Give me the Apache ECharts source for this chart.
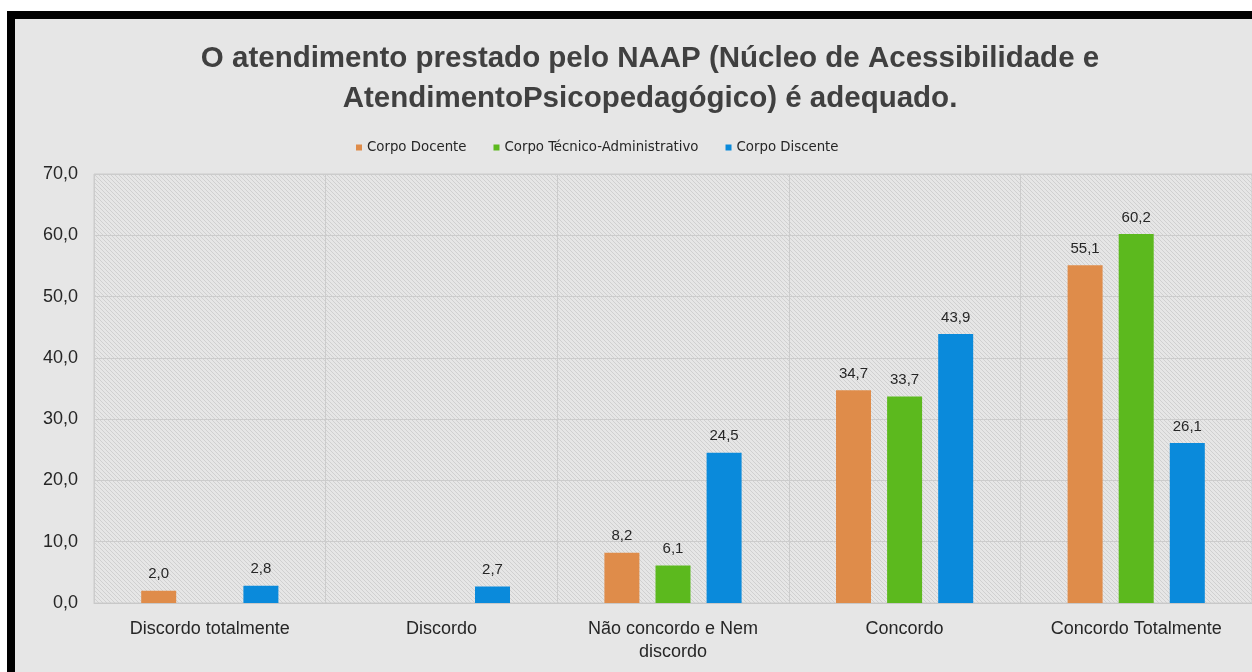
<!DOCTYPE html>
<html>
<head>
<meta charset="utf-8">
<script src="https://cdn.jsdelivr.net/npm/echarts@6/dist/echarts.min.js"></script>
<style>
  html, body { margin: 0; padding: 0; background: #fff; }
  #frame {
    position: absolute; left: 7px; top: 11px; right: 0; bottom: 0;
    border-left: 8px solid #000; border-top: 8px solid #000;
    background: #e6e6e6;
  }
  #chart { position: absolute; left: 0; top: 0; width: 1252px; height: 672px; }
</style>
</head>
<body>
<div id="frame"></div>
<div id="chart"></div>
<script>
const categories = ["Discordo totalmente", "Discordo", "Não concordo e Nem\ndiscordo", "Concordo", "Concordo Totalmente"];
const seriesNames = ["Corpo Docente", "Corpo Técnico-Administrativo", "Corpo Discente"];
const docente = [2.0, null, 8.2, 34.7, 55.1];
const tecnico = [null, null, 6.1, 33.7, 60.2];
const discente = [2.8, 2.7, 24.5, 43.9, 26.1];
const colors = ["#DF8C4A", "#5CB91E", "#0A8ADB"];

// hatched plot background
function hatch() {
  const c = document.createElement("canvas");
  c.width = 4; c.height = 4;
  const ctx = c.getContext("2d");
  ctx.fillStyle = "#e6e6e6";
  ctx.fillRect(0, 0, 4, 4);
  ctx.fillStyle = "#d0d0d0";
  for (let i = 0; i < 4; i++) ctx.fillRect(i, i, 1, 1);
  return c;
}

const fmt = v => v.toFixed(1).replace(".", ",");
const font = "'Liberation Sans', Arial, sans-serif";
const narrow = "'Liberation Sans Narrow', 'DejaVu Sans Condensed', Arial, sans-serif";

const chart = echarts.init(document.getElementById("chart"));

function bar(name, data, color) {
  return {
    name: name,
    type: "bar",
    data: data,
    barWidth: 35,
    barGap: "46%",
    itemStyle: { color: color },
    label: {
      show: true,
      position: "top",
      distance: 9,
      fontSize: 15,
      fontFamily: font,
      color: "#262626",
      formatter: p => (p.value == null ? "" : fmt(p.value)),
    },
  };
}

chart.setOption({
  backgroundColor: "transparent",
  title: {
    text: "O atendimento prestado pelo NAAP (Núcleo de Acessibilidade e\nAtendimentoPsicopedagógico) é adequado.",
    left: 645,
    top: 34,
    textAlign: "center",
    textStyle: { fontSize: 29.5, fontWeight: "bold", color: "#404040", lineHeight: 40, fontFamily: font },
  },
  legend: {
    data: seriesNames,
    left: 351,
    top: 135,
    icon: "rect",
    itemWidth: 6,
    itemHeight: 6,
    itemGap: 27,
    textStyle: { fontSize: 14.8, color: "#262626", fontFamily: narrow },
  },
  grid: {
    left: 94, right: 0, top: 174, bottom: 69,
    show: true,
    backgroundColor: { image: hatch(), repeat: "repeat" },
    borderColor: "#cccccc",
    borderWidth: 1,
  },
  xAxis: {
    type: "category",
    data: categories,
    axisLine: { lineStyle: { color: "#c8c8c8" } },
    axisTick: { show: false },
    splitLine: { show: true, lineStyle: { color: "#cccccc" } },
    axisLabel: { fontSize: 18, color: "#262626", fontFamily: font, margin: 15, lineHeight: 23, interval: 0 },
  },
  yAxis: {
    type: "value",
    min: 0, max: 70, interval: 10,
    axisLine: { show: false },
    axisTick: { show: false },
    splitLine: { lineStyle: { color: "#cccccc" } },
    axisLabel: { fontSize: 18, color: "#262626", fontFamily: font, margin: 16, formatter: fmt },
  },
  series: [
    bar(seriesNames[0], docente, colors[0]),
    bar(seriesNames[1], tecnico, colors[1]),
    bar(seriesNames[2], discente, colors[2]),
  ],
});
</script>
</body>
</html>
